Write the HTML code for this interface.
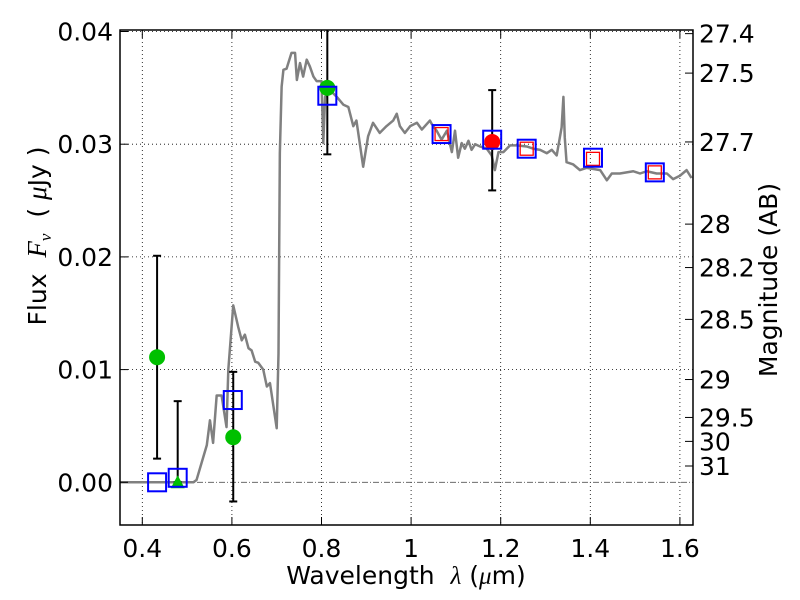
<!DOCTYPE html>
<html><head><meta charset="utf-8"><style>
body{margin:0;background:#fff;}
svg{display:block;font-family:"DejaVu Sans","Liberation Sans",sans-serif;}
</style></head><body>
<svg id="chart" width="800" height="600" viewBox="0 0 800 600" xmlns="http://www.w3.org/2000/svg">
<rect width="800" height="600" fill="#fff"/>
<g id="grid"></g>
<g id="plot"></g>
<g id="axes"></g>
<text x="406" y="584" font-size="25" text-anchor="middle" xml:space="preserve">Wavelength  <tspan font-family="Liberation Serif" font-style="italic">λ</tspan> (<tspan font-family="Liberation Serif" font-style="italic">μ</tspan>m)</text>
<text transform="translate(46,236) rotate(-90)" font-size="25" text-anchor="middle" xml:space="preserve">Flux  <tspan font-family="Liberation Serif" font-style="italic" font-size="27">F<tspan font-size="17" dy="5">ν</tspan></tspan><tspan dy="-5">  ( </tspan><tspan font-family="Liberation Serif" font-style="italic" font-size="27">μ</tspan>Jy )</text>
<text transform="translate(777,280) rotate(-90)" font-size="25" text-anchor="middle">Magnitude (AB)</text>
</svg>
<script>
const specLam=[0.350,0.514,0.521,0.544,0.551,0.558,0.566,0.577,0.588,0.592,0.603,0.614,0.622,0.629,0.637,0.644,0.652,0.659,0.670,0.678,0.685,0.700,0.704,0.707,0.711,0.715,0.722,0.733,0.741,0.745,0.752,0.759,0.767,0.774,0.782,0.789,0.800,0.804,0.808,0.819,0.834,0.849,0.860,0.871,0.878,0.893,0.904,0.915,0.930,0.945,0.960,0.968,0.975,0.986,0.998,1.013,1.024,1.042,1.046,1.057,1.068,1.080,1.091,1.098,1.105,1.113,1.120,1.128,1.135,1.143,1.154,1.169,1.180,1.187,1.195,1.206,1.221,1.236,1.258,1.273,1.288,1.303,1.314,1.325,1.336,1.340,1.343,1.347,1.362,1.377,1.392,1.422,1.437,1.448,1.466,1.496,1.511,1.526,1.548,1.571,1.585,1.600,1.615,1.626];
const specFlux=[0,0,0.0002,0.0033,0.0055,0.0035,0.0077,0.0077,0.0049,0.0100,0.0157,0.0138,0.0126,0.0131,0.0119,0.0117,0.0107,0.0106,0.0100,0.0085,0.0088,0.0048,0.0114,0.0292,0.0351,0.0366,0.0367,0.0381,0.0381,0.0357,0.0372,0.0360,0.0375,0.0369,0.0360,0.0356,0.0356,0.0301,0.0342,0.0348,0.0342,0.0335,0.0333,0.0316,0.0321,0.0280,0.0307,0.0319,0.0310,0.0316,0.0321,0.0327,0.0316,0.0310,0.0316,0.0319,0.0313,0.0321,0.0318,0.0312,0.0304,0.0312,0.0293,0.0312,0.0288,0.0301,0.0296,0.0303,0.0295,0.0300,0.0298,0.0296,0.0290,0.0277,0.0293,0.0293,0.0299,0.0299,0.0298,0.0296,0.0295,0.0292,0.0295,0.0290,0.0315,0.0342,0.0306,0.0284,0.0282,0.0277,0.0279,0.0277,0.0268,0.0274,0.0274,0.0276,0.0274,0.0276,0.0274,0.0274,0.0269,0.0272,0.0277,0.0270];
const modelLam=[0.433,0.479,0.602,0.813,1.068,1.181,1.258,1.406,1.544];
const modelFlux=[0.0000,0.0004,0.0073,0.0343,0.0309,0.0304,0.0296,0.0288,0.0275];
const redLam=[1.068,1.258,1.406,1.544];
const redFlux=[0.0309,0.0296,0.0287,0.0275];
const greenLam=[0.433,0.603,0.813];
const greenFlux=[0.0111,0.0040,0.0350];
const greenErrLo=[0.0021,-0.0017,0.0291];
const greenErrHi=[0.0201,0.0098,0.0420];
const triLam=[0.479];
const triFlux=[0.0000];
const triErrHi=[0.0072];
const redPtLam=[1.181];
const redPtFlux=[0.0302];
const redPtErrLo=[0.0259];
const redPtErrHi=[0.0348];
const xTicks=[0.4,0.6,0.8,1.0,1.2,1.4,1.6];
const xTickLabels=["0.4","0.6","0.8","1","1.2","1.4","1.6"];
const yTicks=[0,0.01,0.02,0.03,0.04];
const yTickLabels=["0.00","0.01","0.02","0.03","0.04"];
const magTicks=[27.4,27.5,27.7,28,28.2,28.5,29,29.5,30,31];
const magTickLabels=["27.4","27.5","27.7","28","28.2","28.5","29","29.5","30","31"];

const L=120,R=693,T=30,B=525;
const X=l=>142.3+(l-0.4)*448;
const Y=f=>482.3-f*11270;
const NS="http://www.w3.org/2000/svg";
function mk(tag,attrs,parent){const e=document.createElementNS(NS,tag);for(const k in attrs)e.setAttribute(k,attrs[k]);parent.appendChild(e);return e;}
const grid=document.getElementById('grid'),plot=document.getElementById('plot'),axes=document.getElementById('axes');

xTicks.forEach((t,i)=>{
  const g=mk('line',{x1:X(t),x2:X(t),y1:T,y2:B,stroke:'#000','stroke-width':0.8,'stroke-dasharray':'1,3'},grid);
  
  
  mk('line',{x1:X(t),x2:X(t),y1:B,y2:B-8,stroke:'#000','stroke-width':1},axes);
  mk('line',{x1:X(t),x2:X(t),y1:T,y2:T+8,stroke:'#000','stroke-width':1},axes);
  const tx=mk('text',{x:X(t),y:B+32,'font-size':25,'text-anchor':'middle'},axes);
  tx.textContent=xTickLabels[i];
  
  
});
yTicks.forEach((t,i)=>{
  if(t!==0){
  const g=mk('line',{x1:L,x2:R,y1:Y(t),y2:Y(t),stroke:'#000','stroke-width':0.8,'stroke-dasharray':'1,3'},grid);
  
  
  }
  mk('line',{x1:L,x2:L+8,y1:Y(t),y2:Y(t),stroke:'#000','stroke-width':1},axes);
  const tx=mk('text',{x:L-7,y:Y(t)+9,'font-size':25,'text-anchor':'end'},axes);
  tx.textContent=yTickLabels[i];
  
  
});
const zl=mk('line',{x1:L,x2:R,y1:Y(0),y2:Y(0),stroke:'#555','stroke-width':0.8,'stroke-dasharray':'6,2,1,2'},grid);


magTicks.forEach((m,i)=>{
  const f=Math.pow(10,-(m-23.9)/2.5);
  mk('line',{x1:R,x2:R-8,y1:Y(f),y2:Y(f),stroke:'#000','stroke-width':1},axes);
  const tx=mk('text',{x:R+6,y:Y(f)+9,'font-size':25},axes);
  tx.textContent=magTickLabels[i];
  
  
});

const sp=mk('polyline',{points:specLam.map((l,i)=>X(l)+','+Y(specFlux[i])).join(' '),fill:'none',stroke:'#808080','stroke-width':2.5,'stroke-linejoin':'round'},plot);



function errbar(l,lo,hi,name){
  const y1=Math.max(Y(hi),T),y2=Y(lo);
  const e=mk('g',{},plot);
  
  
  mk('line',{x1:X(l),x2:X(l),y1:y1,y2:y2,stroke:'#000','stroke-width':2},e);
  if(Y(hi)>=T) mk('line',{x1:X(l)-4,x2:X(l)+4,y1:y1,y2:y1,stroke:'#000','stroke-width':2},e);
  mk('line',{x1:X(l)-4,x2:X(l)+4,y1:y2,y2:y2,stroke:'#000','stroke-width':2},e);
}
greenLam.forEach((l,i)=>errbar(l,greenErrLo[i],greenErrHi[i],'green-errorbar'));
triLam.forEach((l,i)=>errbar(l,triFlux[i],triErrHi[i],'upper-limit-errorbar'));
redPtLam.forEach((l,i)=>errbar(l,redPtErrLo[i],redPtErrHi[i],'red-errorbar'));

greenLam.forEach((l,i)=>{
  const c=mk('circle',{cx:X(l),cy:Y(greenFlux[i]),r:8,fill:'#00c000'},plot);
  
  
});
triLam.forEach((l,i)=>{
  const x=X(l),y=Y(triFlux[i]);
  const p=mk('polygon',{points:`${x},${y-7} ${x-7},${y+6} ${x+7},${y+6}`,fill:'#00c000'},plot);
  
  
});
redPtLam.forEach((l,i)=>{
  const c=mk('circle',{cx:X(l),cy:Y(redPtFlux[i]),r:8,fill:'#ff0000'},plot);
  
  
});
redLam.forEach((l,i)=>{
  const r=mk('rect',{x:X(l)-6.5,y:Y(redFlux[i])-6.5,width:13,height:13,fill:'none',stroke:'#ff0000','stroke-width':1.3},plot);
  
  
});
modelLam.forEach((l,i)=>{
  const r=mk('rect',{x:X(l)-9,y:Y(modelFlux[i])-9,width:18,height:18,fill:'none',stroke:'#0000ff','stroke-width':2},plot);
  
  
});
const fr=mk('rect',{x:L,y:T,width:R-L,height:B-T,fill:'none',stroke:'#000','stroke-width':1.5},axes);


</script>
</body></html>
